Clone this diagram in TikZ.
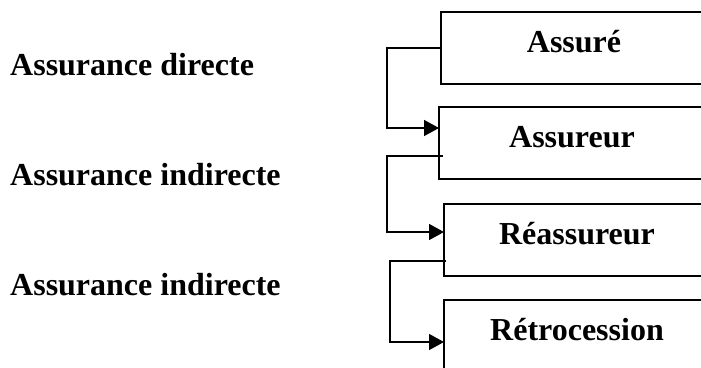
\documentclass[tikz,border=0pt]{standalone}
\usepackage{fontspec}
\setmainfont{Liberation Serif}
\usetikzlibrary{arrows.meta,calc}
\tikzset{
  stage/.style={anchor=north west, minimum width=266, minimum height=72,
    text height=20.5pt, text depth=11.5pt,
    inner sep=0pt, outer sep=0pt, font=\fontsize{32}{36}\selectfont\bfseries},
  frame/.style={line width=1.5pt},
  kind/.style={anchor=base west, inner sep=0pt, font=\fontsize{32}{36}\selectfont\bfseries},
  flow/.style={line width=1.5pt, -{Triangle[length=15pt,width=16pt]}}
}
\begin{document}
\begin{tikzpicture}[x=1pt,y=-1pt]
\useasboundingbox (0,0) rectangle (701,367);
\clip (0,0) rectangle (701,367);
% the four parties of the insurance chain
\node[stage] (b1) at (441,12) {Assuré};
\node[stage] (b2) at (439,107) {Assureur};
\node[stage] (b3) at (444,204) {Réassureur};
\node[stage] (b4) at (444,300) {Rétrocession};
% their frames are open on the right and run on past the edge
\foreach \b in {b1,b2,b3,b4}
  \draw[frame] ($(\b.north west)+(320,0)$) -- (\b.north west) -- (\b.south west) -- ++(320,0);
% kind of insurance for each link
\node[kind] (k1) at (10,75) {Assurance directe};
\node[kind] (k2) at (10,185) {Assurance indirecte};
\node[kind] (k3) at (10,295) {Assurance indirecte};
% links between successive parties
\coordinate (s2) at ($(b2.north west)+(4,49)$);
\coordinate (s3) at ($(b3.north west)+(2,57)$);
\draw[flow] (b1.west) -- ++(-54,0) |- ($(b2.north west)+(0,21)$);
\draw[flow] (s2) -- ++(-56,0) |- ($(b3.north west)+(0,28)$);
\draw[flow] (s3) -- ++(-56,0) |- ($(b4.north west)+(0,42)$);
\end{tikzpicture}
\end{document}
